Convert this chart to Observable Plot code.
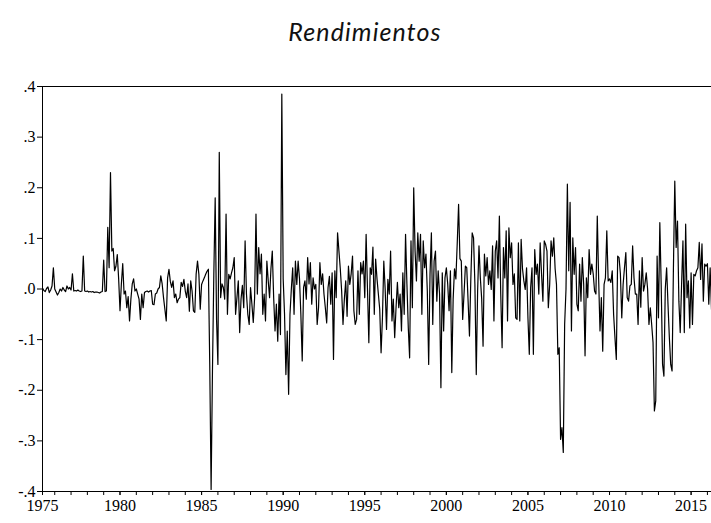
<!DOCTYPE html>
<html>
<head>
<meta charset="utf-8">
<script src="https://cdn.jsdelivr.net/npm/d3@7"></script>
<script src="https://cdn.jsdelivr.net/npm/@observablehq/plot@0.6"></script>
<style>
  html, body { margin: 0; padding: 0; background: #fff; }
  #wrap { position: relative; width: 711px; height: 523px; overflow: hidden; }
  #title { position: absolute; left: 0; width: 730px; top: 16px; text-align: center;
           font-family: Lato, "Open Sans", sans-serif; font-style: italic; font-size: 25px;
           letter-spacing: 1.1px; color: #111; }
  #chart { position: absolute; left: 0; top: 62px; }
  #chart svg text { font-family: "Liberation Serif", "DejaVu Serif", serif !important; }
</style>
</head>
<body>
<div id="wrap">
  <div id="title">Rendimientos</div>
  <div id="chart"></div>
</div>
<script>
// Monthly returns, first observation April 1975
const startDate = 1975 + 3 / 12;
const returns = [
  0.002, -0.003, -0.005, 0.001, 0.004, -0.007, -0.002, 0.006, 0.042, 0.0, -0.006, -0.012,
  -0.007, 0.0, -0.004, 0.003, -0.002, -0.005, 0.006, 0.0, 0.003, -0.002, 0.03, -0.004,
  -0.003, -0.004, -0.002, -0.004, -0.005, -0.004, 0.065, -0.004, -0.005, -0.004, -0.006, -0.005,
  -0.006, -0.005, -0.007, -0.006, -0.006, -0.007, -0.008, -0.006, -0.005, 0.057, -0.005, -0.004,
  0.122, 0.042, 0.23, 0.075, 0.08, 0.036, 0.045, 0.068, 0.02, -0.043, 0.01, 0.05,
  -0.01, -0.004, -0.037, -0.015, -0.063, -0.02, 0.01, 0.02, -0.004, 0.0, -0.01, -0.02,
  -0.06, -0.01, -0.037, -0.007, -0.005, -0.004, -0.006, -0.004, -0.003, -0.03, -0.031, -0.01,
  -0.008, 0.0, 0.003, 0.026, 0.01, -0.017, -0.04, -0.063, 0.022, 0.039, 0.015, 0.003,
  0.016, -0.017, -0.01, -0.027, -0.02, -0.017, 0.013, 0.005, 0.019, -0.004, -0.017, 0.01,
  -0.044, 0.016, -0.004, -0.043, -0.046, 0.03, 0.055, 0.029, -0.04, 0.009, 0.016,
  0.022, 0.029, 0.035, 0.039, -0.149, -0.396, -0.16, 0.03, 0.18, -0.06, -0.149, 0.27,
  -0.017, 0.01, 0.003, -0.02, 0.148, -0.05, 0.029, 0.02, 0.032, 0.042, 0.062, -0.05,
  -0.017, 0.016, -0.086, -0.02, 0.007, -0.037, 0.095, -0.01, -0.05, -0.07, 0.003, -0.03,
  -0.066, -0.017, 0.148, -0.01, 0.082, 0.03, 0.069, -0.05, -0.01, -0.063, 0.055, 0.016,
  -0.017, 0.04, 0.075, -0.017, -0.083, -0.03, -0.103, -0.01, -0.09, 0.385, 0.02, -0.05,
  -0.169, -0.083, -0.208, -0.05, 0.0, 0.042, -0.05, 0.055, 0.009, 0.055, 0.02, -0.05,
  -0.142, 0.003, 0.016, -0.02, 0.062, 0.01, 0.052, -0.03, 0.022, 0.0, 0.009, -0.07,
  -0.037, 0.052, 0.009, 0.03, -0.01, -0.037, -0.067, 0.003, 0.025, -0.03, 0.032, -0.139,
  0.036, -0.017, 0.111, 0.075, 0.04, -0.004, -0.07, -0.02, 0.016, -0.054, 0.045, 0.009,
  0.03, 0.065, -0.043, -0.07, -0.06, 0.036, -0.05, 0.052, 0.03, 0.055, -0.017,
  0.108, 0.0, -0.106, 0.042, 0.029, 0.083, -0.05, 0.059, 0.02, -0.01, -0.04, -0.126,
  -0.057, 0.055, 0.0, -0.08, 0.019, -0.01, 0.075, -0.063, -0.02, -0.096, -0.037, 0.013,
  -0.037, -0.01, -0.083, 0.032, -0.05, 0.108, 0.01, -0.076, -0.136, 0.095, -0.037, 0.2,
  0.075, 0.016, 0.111, 0.055, 0.108, -0.05, 0.095, 0.042, 0.069, -0.004, -0.149, 0.03,
  0.111, -0.07, 0.055, 0.075, -0.024, 0.036, -0.01, -0.195, 0.032, -0.083, 0.022, 0.042,
  0.01, -0.043, 0.036, -0.165, -0.02, 0.04, 0.02, 0.09, 0.167, 0.06, 0.055, -0.06,
  -0.01, 0.045, 0.042, -0.024, -0.093, 0.02, 0.111, 0.101, 0.009, -0.169, -0.004, 0.085,
  0.022, -0.02, -0.113, 0.069, 0.026, 0.062, 0.009, 0.036, -0.001, 0.085, -0.063, 0.075,
  0.095, 0.022, 0.144, -0.01, -0.116, 0.082, 0.022, 0.115, -0.063, 0.121, 0.062, 0.091,
  0.009, 0.03, -0.057, -0.06, 0.091, -0.063, 0.098, 0.04, 0.016, -0.001, 0.042, -0.057,
  -0.129, 0.003, 0.042, -0.129, 0.078, 0.029, 0.049, -0.01, 0.091, 0.03, -0.024, 0.095,
  0.088, 0.075, -0.037, 0.009, 0.095, 0.065, 0.101, 0.04, 0.009, -0.129, -0.116, -0.297,
  -0.274, -0.323, -0.07, 0.0, 0.207, 0.036, 0.171, -0.083, 0.101, 0.029, 0.082, -0.03,
  -0.043, 0.049, -0.024, 0.062, 0.009, -0.132, 0.022, -0.017, 0.078, 0.029, 0.049,
  0.03, -0.004, -0.01, 0.144, 0.02, -0.083, -0.017, -0.123, 0.009, 0.022, 0.115, 0.016,
  0.02, 0.013, 0.036, -0.05, -0.096, -0.139, 0.065, 0.062, 0.03, -0.057, 0.009, 0.042,
  0.072, -0.017, -0.024, 0.006, 0.009, 0.085, 0.022, -0.01, -0.01, -0.07, 0.036, -0.036,
  0.062, -0.004, 0.009, 0.032, 0.0, -0.07, -0.037, -0.07, -0.106, -0.241, -0.221, 0.065,
  -0.057, 0.131, 0.009, -0.149, -0.172, 0.0, 0.042, -0.03, -0.096, -0.149, -0.162, 0.042,
  0.213, 0.082, 0.134, -0.024, -0.086, 0.009, 0.095, -0.086, 0.128, -0.017, 0.016, -0.077,
  0.032, -0.07, 0.029, 0.026, 0.036, 0.042, 0.092, 0.019, 0.089, -0.024, 0.049, 0.045,
  0.05, -0.03, 0.042, -0.04
];
const xLabelYears = [1975, 1980, 1985, 1990, 1995, 2000, 2005, 2010, 2015];
const xMinorYears = d3.range(1976, 2017);
const yTicks = [-0.4, -0.3, -0.2, -0.1, 0, 0.1, 0.2, 0.3, 0.4];
const yTickLabels = ["-.4", "-.3", "-.2", "-.1", ".0", ".1", ".2", ".3", ".4"];

const data = returns.map((v, i) => ({t: startDate + i / 12, r: v}));
const xEnd = startDate + (returns.length - 1) / 12;
// first label sits on the first observation
const labelPositions = xLabelYears.map(y => Math.max(y, startDate));

const serif = "Liberation Serif";

const chart = Plot.plot({
  width: 711,
  height: 461,
  marginTop: 24,
  marginBottom: 32,
  marginLeft: 42,
  marginRight: 0,
  style: {fontFamily: serif, fontSize: "16px", background: "#fff", color: "#000"},
  x: {domain: [startDate, xEnd]},
  y: {domain: [-0.4, 0.4]},
  marks: [
    Plot.axisY({ticks: yTicks, tickFormat: d => yTickLabels[yTicks.findIndex(t => Math.abs(t - d) < 1e-9)], tickSize: 5, tickPadding: 2, fontSize: 16, fontFamily: serif, label: null}),
    Plot.axisX({ticks: xMinorYears, tickFormat: null, text: null, tickSize: 4, label: null}),
    Plot.axisX({ticks: labelPositions, tickFormat: d => String(Math.floor(d)), tickSize: 4, tickPadding: 4, fontSize: 16, fontFamily: serif, label: null}),
    Plot.ruleX([startDate], {stroke: "#000", strokeWidth: 1}),
    Plot.ruleY([0.4, -0.4], {stroke: "#000", strokeWidth: 1}),
    Plot.lineY(data, {x: "t", y: "r", stroke: "#000", strokeWidth: 1.2})
  ]
});
document.getElementById("chart").appendChild(chart);
</script>
</body>
</html>
